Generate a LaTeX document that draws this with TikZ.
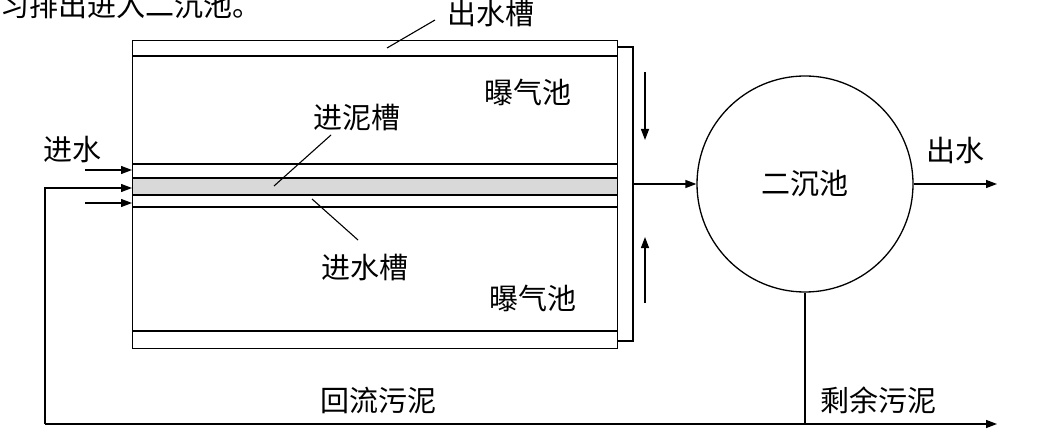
\documentclass[tikz,border=0pt]{standalone}
\usepackage{fontspec}
\newfontfamily\cjk{Noto Sans CJK SC}
\usetikzlibrary{arrows.meta}
\begin{document}
\begin{tikzpicture}[x=1pt,y=-1pt,
  line width=1.3pt,
  lbl/.style={font=\cjk\fontsize{29}{31}\selectfont, inner sep=0pt},
  flow/.style={-{Triangle[length=11pt,width=8pt]}},
  leader/.style={line width=1.1pt},
  tankbox/.style={draw, inner sep=0pt, minimum width=485pt, minimum height=308pt, anchor=north west},
  clar/.style={draw, circle, inner sep=0pt, minimum size=216pt}]
\useasboundingbox (0,0) rectangle (1059,430);
\clip (0,0) rectangle (1059,430);
% cut-off text line at top
\node[lbl, anchor=west] (cut) at (0,5) {习排出进入二沉池。};
% tank
\fill[gray!30] (132,178) rectangle (617,195);
\node[tankbox] (tank) at (132,40) {};
\draw (132,56) -- (617,56);
\draw (132,331) -- (617,331);
\draw (132,164) -- (617,164);
\draw (132,178) -- (617,178);
\draw (132,195) -- (617,195);
\draw (132,207) -- (617,207);
% bracket (collector)
\draw (617,47) -- (633,47) -- (633,341) -- (617,341);
\coordinate (bout) at (633,184);
% clarifier
\node[clar] (sed) at (805,184) {};
\node[lbl] (sedl) at (805,184) {二沉池};
\draw[flow] (bout) -- (sed.west);
% down / up arrows
\coordinate (d1) at (645,72); \coordinate (d2) at (645,140);
\draw[flow] (d1) -- (d2);
\coordinate (u1) at (645,303); \coordinate (u2) at (645,237);
\draw[flow] (u1) -- (u2);
% effluent
\coordinate (eff) at (997,184);
\draw[flow] (sed.east) -- (eff);
\node[lbl] (effl) at (955,151) {出水};
% inflow
\coordinate (in1) at (85,170); \coordinate (in1e) at (132,170);
\coordinate (in2) at (85,203); \coordinate (in2e) at (132,203);
\draw[flow] (in1) -- (in1e);
\draw[flow] (in2) -- (in2e);
\node[lbl] (inl) at (72,150) {进水};
% return sludge
\coordinate (r0) at (45,424); \coordinate (r1) at (45,188); \coordinate (r2) at (132,188);
\coordinate (rend) at (997,424);
\draw[flow] (r0) -- (r1) -- (r2);
\draw[flow] (r0) -- (rend);
\coordinate (w0) at (805,424);
\draw (sed.south) -- (w0);
\node[lbl] (retl) at (378,400) {回流污泥};
\node[lbl] (wasl) at (878,400) {剩余污泥};
% labels with leaders
\node[lbl] (outch) at (491,14) {出水槽};
\coordinate (outchp) at (387,48);
\draw[leader] (435,20) -- (outchp);
\node[lbl] (sludgech) at (357,118) {进泥槽};
\coordinate (sludgechp) at (274,186);
\draw[leader] (331,135) -- (sludgechp);
\node[lbl] (inch) at (365,268) {进水槽};
\coordinate (inchp) at (312,199);
\draw[leader] (358,240) -- (inchp);
\node[lbl] (aer1) at (528,92) {曝气池};
\node[lbl] (aer2) at (533,298) {曝气池};
\end{tikzpicture}
\end{document}
